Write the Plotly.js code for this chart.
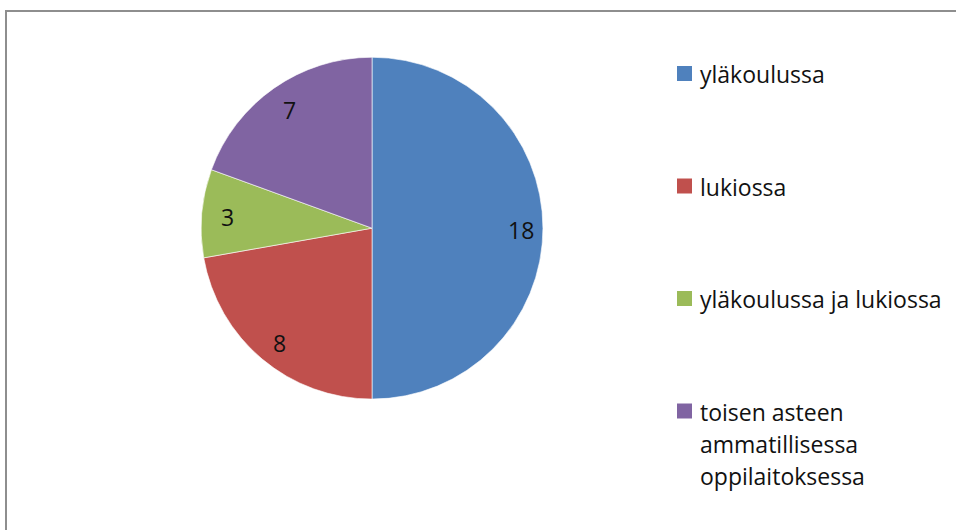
<!DOCTYPE html>
<html><head><meta charset="utf-8">
<script src="https://cdn.plot.ly/plotly-3.0.1.min.js"></script>
<style>
html,body{margin:0;padding:0;background:#fff;}
#wrap{position:relative;width:956px;height:530px;overflow:hidden;}
#chart{position:absolute;left:0;top:0;width:956px;height:530px;}
#frame{position:absolute;left:5px;top:10px;width:1000px;height:600px;border-top:2px solid #8e8e8e;border-left:2px solid #8e8e8e;pointer-events:none;}
</style></head>
<body><div id="wrap"><div id="chart"></div><div id="frame"></div></div>
<script>
const categories = ["yläkoulussa", "lukiossa", "yläkoulussa ja lukiossa", "toisen asteen|ammatillisessa|oppilaitoksessa"];
const values = [18, 8, 3, 7];
const colors = ["#4F81BD", "#C0504D", "#9BBB59", "#8064A2"];

const FONT = "'Open Sans', 'Noto Sans', sans-serif";
const W = 956, H = 530;
const dom = {x: [0.2103, 0.568], y: [0.247, 0.892]};

const trace = {
  type: "pie",
  labels: categories.map(c => c.replace(/\|/g, " ")),
  values: values,
  sort: false,
  direction: "clockwise",
  rotation: 0,
  marker: {colors: colors, line: {color: "rgba(255,255,255,0.6)", width: 1}},
  textinfo: "none",
  domain: dom,
  showlegend: false,
  hoverinfo: "label+value"
};

const annotations = [], shapes = [];

// data labels placed from the values (Excel-style, near the rim)
const total = values.reduce((a, b) => a + b, 0);
const cx = (dom.x[0] + dom.x[1]) / 2 * W;
const cy = (1 - (dom.y[0] + dom.y[1]) / 2) * H;
const R = Math.min((dom.x[1] - dom.x[0]) * W, (dom.y[1] - dom.y[0]) * H) / 2;
let cum = 0;
values.forEach((v, i) => {
  const mid = (cum + v / 2) / total * 2 * Math.PI;
  cum += v;
  const px = cx + Math.sin(mid) * R * 0.86 + 2;
  const py = cy - Math.cos(mid) * R * 0.86 + 2;
  annotations.push({xref: "paper", yref: "paper", x: px / W, y: 1 - py / H,
    xanchor: "center", yanchor: "middle", showarrow: false, text: String(v),
    font: {family: FONT, size: 23, color: "#111"}});
});

// custom legend
const legX = 698, legY0 = 74, legStep = 112.5, lineH = 32;
categories.forEach((c, i) => {
  const lines = c.split("|");
  const y = legY0 + i * legStep;
  shapes.push({type: "rect", xref: "paper", yref: "paper",
    x0: 677 / W, x1: 692 / W, y0: 1 - (y + 7) / H, y1: 1 - (y - 8) / H,
    fillcolor: colors[i], line: {width: 0}});
  lines.forEach((ln, j) => {
    annotations.push({xref: "paper", yref: "paper", x: legX / W, y: 1 - (y + j * lineH) / H,
      xanchor: "left", yanchor: "middle", showarrow: false, text: ln,
      font: {family: FONT, size: 23, color: "#111"}});
  });
});

const layout = {
  width: W, height: H,
  margin: {l: 0, r: 0, t: 0, b: 0},
  paper_bgcolor: "#fff",
  showlegend: false,
  annotations: annotations,
  shapes: shapes
};
Plotly.newPlot("chart", [trace], layout, {displayModeBar: false, staticPlot: true});
</script></body></html>
